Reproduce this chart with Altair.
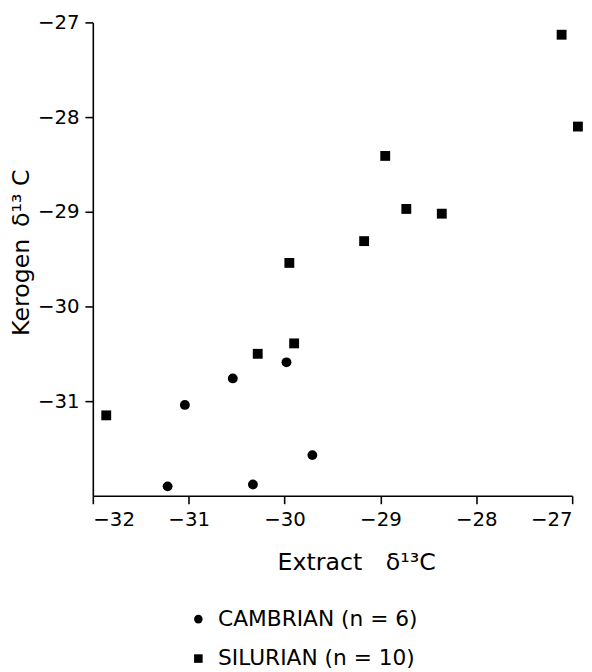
import altair as alt
import pandas as pd

# Cambrian samples (circles)
cam_x = [-31.04, -30.54, -29.98, -29.71, -31.22, -30.33]
cam_y = [-31.04, -30.76, -30.59, -31.57, -31.90, -31.88]
# Silurian samples (squares)
sil_x = [-31.86, -30.28, -29.90, -29.95, -29.17, -28.95, -28.73, -28.36, -27.11, -26.94]
sil_y = [-31.15, -30.50, -30.39, -29.54, -29.31, -28.41, -28.97, -29.02, -27.13, -28.10]

series = ["CAMBRIAN (n = 6)", "SILURIAN (n = 10)"]
x_ticks = [-32, -31, -30, -29, -28, -27]
y_ticks = [-31, -30, -29, -28, -27]

df = pd.DataFrame(
    {
        "extract": cam_x + sil_x,
        "kerogen": cam_y + sil_y,
        "period": [series[0]] * len(cam_x) + [series[1]] * len(sil_x),
    }
)

FONT = "DejaVu Sans"

axis_common = dict(
    grid=False,
    domainColor="black",
    domainWidth=1.6,
    tickColor="black",
    tickWidth=1.6,
    tickSize=8,
    labelColor="black",
    labelFont=FONT,
    labelFontSize=20,
    titleColor="black",
    titleFont=FONT,
    titleFontSize=24,
    titleFontWeight="normal",
)

chart = (
    alt.Chart(df)
    .mark_point(filled=True, opacity=1, color="black", clip=False)
    .encode(
        x=alt.X(
            "extract:Q",
            scale=alt.Scale(domain=[-32, -27], nice=False, zero=False),
            axis=alt.Axis(
                values=x_ticks,
                title="Extract\u2003δ¹³C",
                labelPadding=6,
                titleX=267,
                titlePadding=22,
                **axis_common,
            ),
        ),
        y=alt.Y(
            "kerogen:Q",
            scale=alt.Scale(domain=[-32, -27], nice=False, zero=False),
            axis=alt.Axis(
                values=y_ticks,
                title="Kerogen\u2002δ¹³ C",
                labelPadding=6,
                titleX=-72,
                titleY=233,
                titleBaseline="middle",
                **axis_common,
            ),
        ),
        shape=alt.Shape(
            "period:N",
            scale=alt.Scale(domain=series, range=["circle", "square"]),
            legend=alt.Legend(
                title=None,
                orient="none",
                legendX=96,
                legendY=594,
                symbolSize=75,
                symbolFillColor="black",
                symbolStrokeColor="black",
                labelFont=FONT,
                labelFontSize=22,
                labelColor="black",
                labelOffset=9,
                labelLimit=500,
                rowPadding=18,
                padding=0,
            ),
        ),
        size=alt.value(100),
    )
    .properties(
        width=486,
        height=480,
        autosize="none",
        padding={"left": 86, "top": 10, "right": 12, "bottom": 174},
    )
    .configure_view(stroke=None)
)

chart.save("out.html", embed_options={"renderer": "svg", "actions": False})
